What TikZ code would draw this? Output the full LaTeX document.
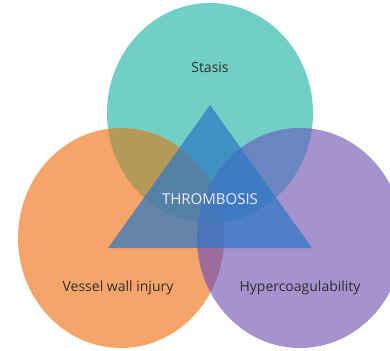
\documentclass[tikz,border=0pt]{standalone}
\usepackage{fontspec}
\setmainfont{Open Sans}
\usetikzlibrary{positioning}
\definecolor{stasiscol}{HTML}{72CFC5}
\definecolor{injurycol}{HTML}{F6A56A}
\definecolor{hypercol}{HTML}{A592CE}
\definecolor{stasisinjury}{HTML}{B49A58}
\definecolor{stasishyper}{HTML}{6A86C0}
\definecolor{injuryhyper}{HTML}{9E6B9A}
\definecolor{allthree}{HTML}{7A72A6}
\definecolor{thrombcol}{HTML}{2F78C4}
\definecolor{labelcol}{HTML}{2E2E2E}
\tikzset{
  factor/.style={font=\fontsize{14}{16}\selectfont, text=labelcol, inner sep=0pt},
  core/.style={font=\fontsize{15}{17}\selectfont, text=white!92!blue, inner sep=0pt}
}
\begin{document}
\begin{tikzpicture}[x=1pt,y=-1pt]
\useasboundingbox (0,0) rectangle (390,350);
% three circles
\fill[stasiscol] (210,113) ellipse [x radius=103pt, y radius=110pt];
\fill[injurycol] (121,238) ellipse [x radius=103pt, y radius=110pt];
\fill[hypercol] (300,238) ellipse [x radius=103pt, y radius=110pt];
% overlaps
\begin{scope}
\clip (210,113) ellipse [x radius=103pt, y radius=110pt];
\fill[stasisinjury] (121,238) ellipse [x radius=103pt, y radius=110pt];
\fill[stasishyper] (300,238) ellipse [x radius=103pt, y radius=110pt];
\end{scope}
\begin{scope}
\clip (121,238) ellipse [x radius=103pt, y radius=110pt];
\fill[injuryhyper] (300,238) ellipse [x radius=103pt, y radius=110pt];
\end{scope}
\begin{scope}
\clip (210,113) ellipse [x radius=103pt, y radius=110pt];
\clip (121,238) ellipse [x radius=103pt, y radius=110pt];
\fill[allthree] (300,238) ellipse [x radius=103pt, y radius=110pt];
\end{scope}
% triangle
\fill[thrombcol, fill opacity=0.72] (210,105) -- (312,248) -- (108,248) -- cycle;
% labels
\node[factor] (stasis) at (210,67) {Stasis};
\node[factor] (injury) at (118,288) {Vessel wall injury};
\node[factor] (hyper) at (300,288) {Hypercoagulability};
\node[core] (thrombosis) at (210,199) {THROMBOSIS};
\end{tikzpicture}
\end{document}
